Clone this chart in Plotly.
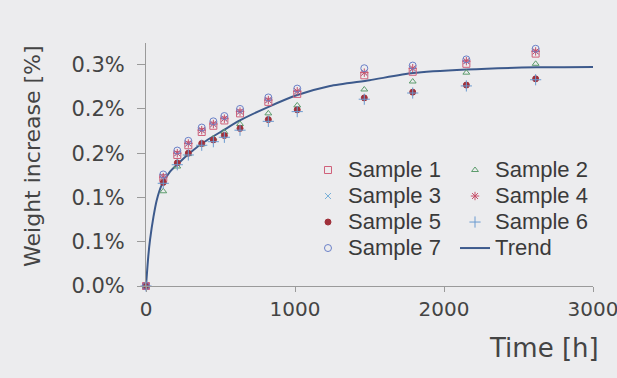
import plotly.graph_objects as go

# ---- data ----
time_h = [0, 116, 210, 284, 374, 452, 526, 631, 821, 1015, 1465, 1790, 2150, 2615]

sample_1 = [0, 0.122, 0.148, 0.159, 0.174, 0.181, 0.187, 0.195, 0.208, 0.217, 0.238, 0.242, 0.251, 0.2625]
sample_2 = [0, 0.107, 0.135, 0.149, 0.160, 0.167, 0.174, 0.183, 0.195, 0.204, 0.222, 0.231, 0.241, 0.251]
sample_3 = [0, 0.124, 0.150, 0.161, 0.176, 0.183, 0.189, 0.197, 0.210, 0.220, 0.241, 0.245, 0.254, 0.265]
sample_4 = [0, 0.123, 0.150, 0.161, 0.176, 0.183, 0.189, 0.197, 0.210, 0.220, 0.241, 0.246, 0.254, 0.265]
sample_5 = [0, 0.117, 0.139, 0.150, 0.161, 0.165, 0.170, 0.178, 0.188, 0.199, 0.2125, 0.219, 0.227, 0.234]
sample_6 = [0, 0.116, 0.137, 0.148, 0.159, 0.163, 0.168, 0.176, 0.186, 0.197, 0.211, 0.218, 0.226, 0.233]
sample_7 = [0, 0.126, 0.153, 0.164, 0.179, 0.186, 0.192, 0.200, 0.213, 0.223, 0.246, 0.249, 0.256, 0.268]

trend_t = [0, 15, 27, 50, 72, 105, 160, 220, 300, 375, 520, 630, 830, 1010, 1235, 1500, 1790, 2150, 2620, 3000]
trend_v = [0, 0.033, 0.052, 0.078, 0.097, 0.114, 0.129, 0.139, 0.151, 0.161, 0.176, 0.187, 0.203,
           0.2155, 0.226, 0.2325, 0.2405, 0.2445, 0.247, 0.2475]

y_tickvals = [0, 0.05, 0.10, 0.15, 0.20, 0.25]
y_ticktext = ["0.0%", "0.1%", "0.1%", "0.2%", "0.2%", "0.3%"]
x_tickvals = [0, 1000, 2000, 3000]
x_ticktext = ["0", "1000", "2000", "3000"]

series = [
    ("Sample 1", sample_1, "square-open", "#d0607a", 7, "legend"),
    ("Sample 2", sample_2, "triangle-up-open", "#5c9c6c", 6, "legend2"),
    ("Sample 3", sample_3, "x-thin-open", "#78b0d8", 6, "legend"),
    ("Sample 4", sample_4, "asterisk-open", "#c8506a", 7, "legend2"),
    ("Sample 5", sample_5, "circle", "#a0303a", 6, "legend"),
    ("Sample 6", sample_6, "cross-thin-open", "#6a9ad0", 8, "legend2"),
    ("Sample 7", sample_7, "circle-open", "#6a80c8", 7, "legend"),
]

AX_FONT = "DejaVu Sans, Verdana, sans-serif"
LEG_FONT = "Liberation Sans, Arial, sans-serif"
TXT = "#444444"


def legname(s):
    return '<span style="font-size:22px">' + s + '</span>'


fig = go.Figure()

fig.add_trace(go.Scatter(
    x=trend_t, y=trend_v, mode="lines", name=legname("Trend"),
    line=dict(color="#3d5a8c", width=2, shape="spline", smoothing=0.6),
    legend="legend2", legendrank=1000, cliponaxis=False,
))

for i, (name, vals, sym, col, size, leg) in enumerate(series):
    fig.add_trace(go.Scatter(
        x=time_h, y=vals, mode="markers", name=legname(name),
        marker=dict(symbol=sym, color=col, size=size, line=dict(color=col, width=1)),
        legend=leg, legendrank=i + 1, cliponaxis=False,
    ))

fig.update_layout(
    width=617, height=378,
    margin=dict(l=146, r=24, t=43, b=92),
    paper_bgcolor="#ececee", plot_bgcolor="#ececee",
    font=dict(family=AX_FONT, color=TXT),
    xaxis=dict(
        range=[0, 3000], tickvals=x_tickvals, ticktext=x_ticktext,
        showline=True, linecolor="#9a9a9a", linewidth=1,
        ticks="outside", ticklen=5, tickcolor="#9a9a9a",
        showgrid=False, zeroline=False, ticklabeloverflow="allow", automargin=False,
        tickfont=dict(family=AX_FONT, size=20, color=TXT),
    ),
    yaxis=dict(
        range=[0, 0.2745], tickvals=y_tickvals, ticktext=y_ticktext,
        showline=True, linecolor="#9a9a9a", linewidth=1,
        ticks="outside", ticklen=8, tickcolor="#9a9a9a",
        showgrid=False, zeroline=False, ticklabelstandoff=8, automargin=False,
        tickfont=dict(family=AX_FONT, size=21, color=TXT),
    ),
    legend=dict(
        x=0.3624, y=0.5514, xanchor="left", yanchor="top",
        bgcolor="rgba(0,0,0,0)", font=dict(family=LEG_FONT, size=17.7, color="#3a3a3a"),
        traceorder="normal",
    ),
    legend2=dict(
        x=0.6913, y=0.5514, xanchor="left", yanchor="top",
        bgcolor="rgba(0,0,0,0)", font=dict(family=LEG_FONT, size=17.7, color="#3a3a3a"),
        traceorder="normal",
    ),
    annotations=[
        dict(text="Weight increase [%]", textangle=-90, xref="paper", yref="paper",
             x=-0.253, y=0.535, xanchor="center", yanchor="middle", showarrow=False,
             font=dict(family=AX_FONT, size=22, color=TXT)),
        dict(text="Time [h]", xref="paper", yref="paper",
             x=1.018, y=-0.255, xanchor="right", yanchor="middle", showarrow=False,
             font=dict(family=AX_FONT, size=26, color=TXT)),
    ],
)

fig.write_html(
    "out.html",
    config={"displayModeBar": False},
    post_script="document.body.style.margin='0';document.body.style.padding='0';"
                "document.body.style.overflow='hidden';document.body.style.background='#ececee';",
)
